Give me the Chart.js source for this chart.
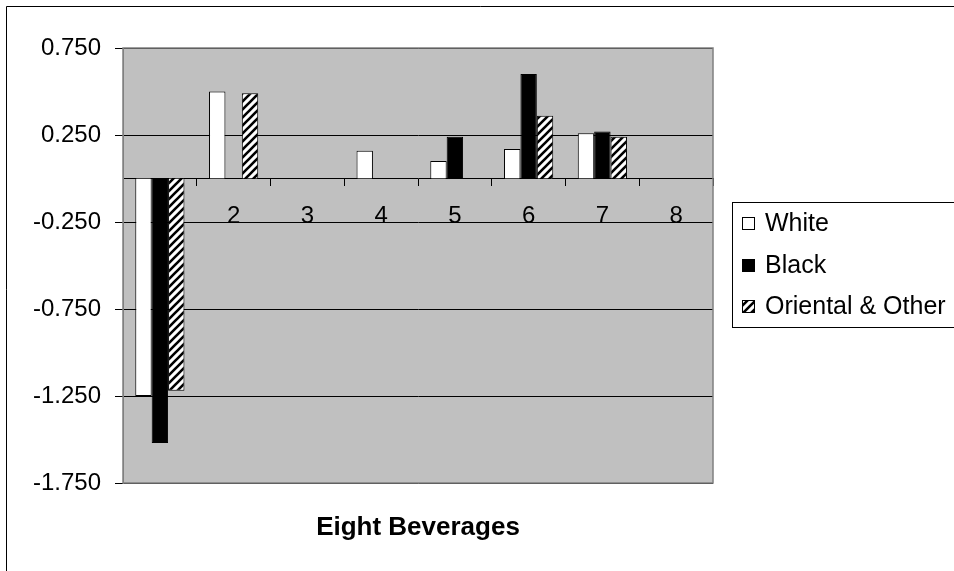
<!DOCTYPE html>
<html>
<head>
<meta charset="utf-8">
<script src="https://cdn.jsdelivr.net/npm/chart.js@4/dist/chart.umd.min.js"></script>
<style>
html,body{margin:0;padding:0;background:#fff;}
canvas{display:block;}
</style>
</head>
<body>
<canvas id="c" width="954" height="571"></canvas>
<script>
const categories = ['1','2','3','4','5','6','7','8'];
const seriesNames = ['White','Black','Oriental & Other'];
const whiteValues = [-1.25, 0.50, 0, 0.16, 0.10, 0.17, 0.26, 0];
const blackValues = [-1.52, 0, 0, 0, 0.24, 0.60, 0.27, 0];
const orientalValues = [-1.22, 0.49, 0, 0, 0, 0.36, 0.24, 0];
const yTickValues = [-1.75, -1.25, -0.75, -0.25, 0.25, 0.75];
const xTitle = 'Eight Beverages';

const FONT = "'Liberation Sans', Arial, sans-serif";

function makeHatch() {
  const s = 8;
  const p = document.createElement('canvas');
  p.width = s; p.height = s;
  const g = p.getContext('2d');
  g.fillStyle = '#fff';
  g.fillRect(0, 0, s, s);
  g.strokeStyle = '#000';
  g.lineWidth = 2.6;
  g.beginPath();
  g.moveTo(-2, s + 2); g.lineTo(s + 2, -2);
  g.moveTo(-2 - s, s + 2); g.lineTo(2, -2);
  g.moveTo(s - 2, s + 2); g.lineTo(s + s + 2, -2);
  g.stroke();
  return document.getElementById('c').getContext('2d').createPattern(p, 'repeat');
}
const hatch = makeHatch();

const fills = ['#ffffff', '#000000', hatch];

const framePlugin = {
  id: 'frame',
  beforeDraw(chart) {
    const {ctx, chartArea: a} = chart;
    ctx.save();
    ctx.fillStyle = '#ffffff';
    ctx.fillRect(0, 0, chart.width, chart.height);
    ctx.strokeStyle = '#000';
    ctx.lineWidth = 1;
    ctx.beginPath();
    ctx.moveTo(6.5, chart.height + 2);
    ctx.lineTo(6.5, 6.5);
    ctx.lineTo(chart.width + 2, 6.5);
    ctx.stroke();
    ctx.fillStyle = '#c0c0c0';
    ctx.fillRect(a.left, a.top, a.right - a.left, a.bottom - a.top);
    ctx.restore();
  },
  afterDatasetsDraw(chart) {
    const {ctx, chartArea: a} = chart;
    ctx.save();
    ctx.strokeStyle = '#808080';
    ctx.lineWidth = 1.5;
    ctx.strokeRect(a.left, a.top, a.right - a.left, a.bottom - a.top);
    ctx.restore();
  },
  afterDraw(chart) {
    const {ctx} = chart;
    ctx.save();
    const lx = 732.5, ly = 202.5;
    ctx.strokeStyle = '#000';
    ctx.lineWidth = 1;
    ctx.strokeRect(lx, ly, 260, 125);
    ctx.font = '25px ' + FONT;
    ctx.textBaseline = 'middle';
    ctx.textAlign = 'left';
    const rows = [223, 265, 306];
    chart.data.datasets.forEach((ds, i) => {
      const cy = rows[i];
      ctx.fillStyle = ds.backgroundColor;
      ctx.fillRect(742, cy - 6, 12, 12);
      ctx.strokeStyle = '#000';
      ctx.strokeRect(742.5, cy - 5.5, 12, 12);
      ctx.fillStyle = '#000';
      ctx.fillText(ds.label, 765, cy + 1);
    });
    ctx.restore();
  }
};

new Chart(document.getElementById('c'), {
  type: 'bar',
  data: {
    labels: categories,
    datasets: [
      {label: seriesNames[0], data: whiteValues, backgroundColor: fills[0], borderColor: '#000', borderWidth: 1},
      {label: seriesNames[1], data: blackValues, backgroundColor: fills[1], borderColor: '#000', borderWidth: 1},
      {label: seriesNames[2], data: orientalValues, backgroundColor: fills[2], borderColor: '#000', borderWidth: 1}
    ]
  },
  options: {
    responsive: false,
    animation: false,
    devicePixelRatio: 1,
    categoryPercentage: 0.667,
    barPercentage: 1.0,
    layout: {padding: {top: 48, right: 241, bottom: 0, left: 0}},
    plugins: {
      legend: {display: false},
      tooltip: {enabled: false},
      title: {
        display: true,
        text: xTitle,
        position: 'bottom',
        fullSize: false,
        color: '#000',
        font: {family: FONT, size: 26, weight: 'bold'},
        padding: {top: 29, bottom: 27.8}
      }
    },
    scales: {
      x: {
        type: 'category',
        position: {y: 0},
        offset: true,
        grid: {display: true, drawOnChartArea: false, drawTicks: true, tickLength: 7, color: '#000', offset: true},
        border: {display: true, color: '#000', width: 1},
        ticks: {color: '#000', font: {family: FONT, size: 24}, padding: 16, maxRotation: 0, autoSkip: false}
      },
      y: {
        min: -1.75,
        max: 0.75,
        afterBuildTicks(scale) { scale.ticks = yTickValues.map(v => ({value: v})); },
        afterFit(scale) { scale.width = 123; },
        grid: {color: '#000', lineWidth: 1, tickLength: 8, drawTicks: true},
        border: {display: true, color: '#808080', width: 1},
        ticks: {color: '#000', font: {family: FONT, size: 24}, padding: 14, callback: v => Number(v).toFixed(3)}
      }
    }
  },
  plugins: [framePlugin]
});
</script>
</body>
</html>
